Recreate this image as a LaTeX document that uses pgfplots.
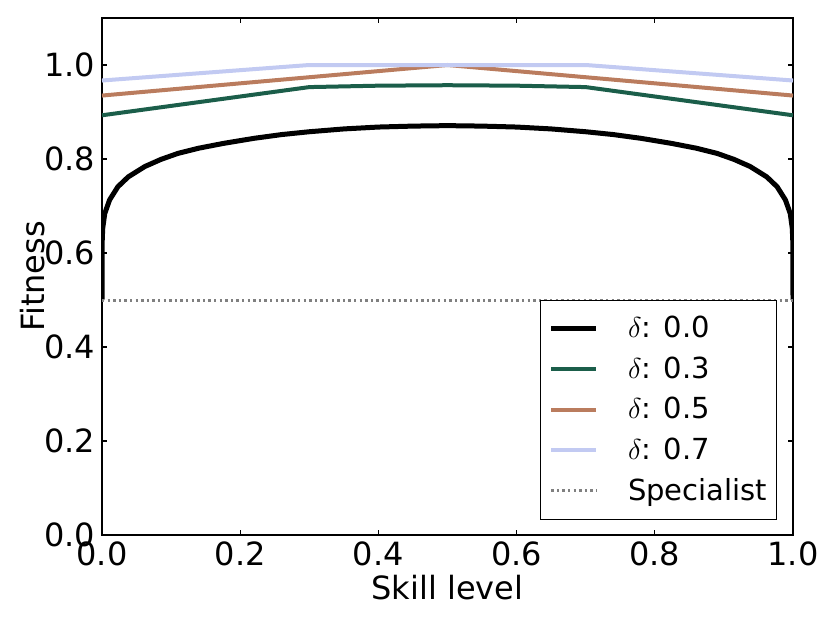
\documentclass[border=0pt]{standalone}
\usepackage{fontspec}
\setmainfont{DejaVu Sans}
\usepackage{pgfplots}
\pgfplotsset{compat=1.18}
\definecolor{cgreen}{RGB}{27,94,74}
\definecolor{cbrown}{RGB}{186,124,94}
\definecolor{cblue}{RGB}{194,202,242}
\definecolor{cgray}{RGB}{128,128,128}
\begin{document}
\begin{tikzpicture}
\begin{axis}[
  scale only axis, width=345.5pt, height=258.5pt,
  at={(0,0)}, anchor=south west,
  xmin=0, xmax=1, ymin=0, ymax=1.1,
  xtick={0,0.2,0.4,0.6,0.8,1}, ytick={0,0.2,0.4,0.6,0.8,1},
  /pgf/number format/fixed, /pgf/number format/fixed zerofill,
  /pgf/number format/precision=1, /pgf/number format/assume math mode=true,
  tick label style={font=\fontsize{16}{19}\selectfont},
  label style={font=\fontsize{16}{19}\selectfont},
  xlabel={Skill level}, ylabel={Fitness},
  xlabel style={at={(axis description cs:0.5,-0.1025)}, anchor=center},
  ylabel style={at={(axis description cs:-0.101,0.5)}, anchor=center},
  major tick length=2.5pt,
  axis line style={line width=0.6pt},
  every tick/.style={black, line width=0.6pt},
  legend style={at={(rel axis cs:0.977,0.029)}, anchor=south east, draw=black,
    line width=0.6pt, fill=white, font=\fontsize{14.5}{17.5}\selectfont,
    row sep=4pt, inner xsep=4pt, inner ysep=6pt,
    nodes={inner xsep=0.7pt},
    /tikz/every odd column/.append style={column sep=14pt}},
  legend cell align=left,
  legend image code/.code={\draw[#1] (3.5pt,0pt) -- (26pt,0pt);},
]
\addplot[black, line width=2.5pt] coordinates {
(0,0.5)(0.00005,0.58)(0.0003,0.625)(0.001,0.652)(0.004,0.684)(0.011,0.713)
(0.023,0.741)(0.038,0.762)(0.062,0.784)(0.085,0.799)(0.11,0.812)(0.14,0.823)
(0.175,0.833)(0.22,0.844)(0.26,0.852)(0.3,0.858)(0.35,0.864)(0.4,0.868)
(0.45,0.870)(0.5,0.871)
(0.55,0.870)(0.6,0.868)(0.65,0.864)(0.7,0.858)(0.74,0.852)(0.78,0.844)
(0.825,0.833)(0.86,0.823)(0.89,0.812)(0.915,0.799)(0.938,0.784)(0.962,0.762)
(0.977,0.741)(0.989,0.713)(0.996,0.684)(0.999,0.652)(0.9997,0.625)(0.99995,0.58)(1,0.5)};
\addlegendentry{$\delta$: 0.0}
\addplot[cgreen, line width=2pt] coordinates {
(0,0.893)(0.3,0.953)(0.4,0.956)(0.5,0.957)(0.6,0.956)(0.7,0.953)(1,0.893)};
\addlegendentry{$\delta$: 0.3}
\addplot[cbrown, line width=2pt] coordinates {
(0,0.935)(0.5,1.0)(1,0.935)};
\addlegendentry{$\delta$: 0.5}
\addplot[cblue, line width=2pt] coordinates {
(0,0.967)(0.3,1.0)(0.7,1.0)(1,0.967)};
\addlegendentry{$\delta$: 0.7}
\addplot[cgray, line width=1.5pt, dash pattern=on 1.2pt off 1.6pt] coordinates {
(0,0.5)(1,0.5)};
\addlegendentry{Specialist}
\end{axis}
\pgfresetboundingbox
\path[use as bounding box] (-51pt,-44pt) rectangle (364pt,267.5pt);
\end{tikzpicture}
\end{document}
